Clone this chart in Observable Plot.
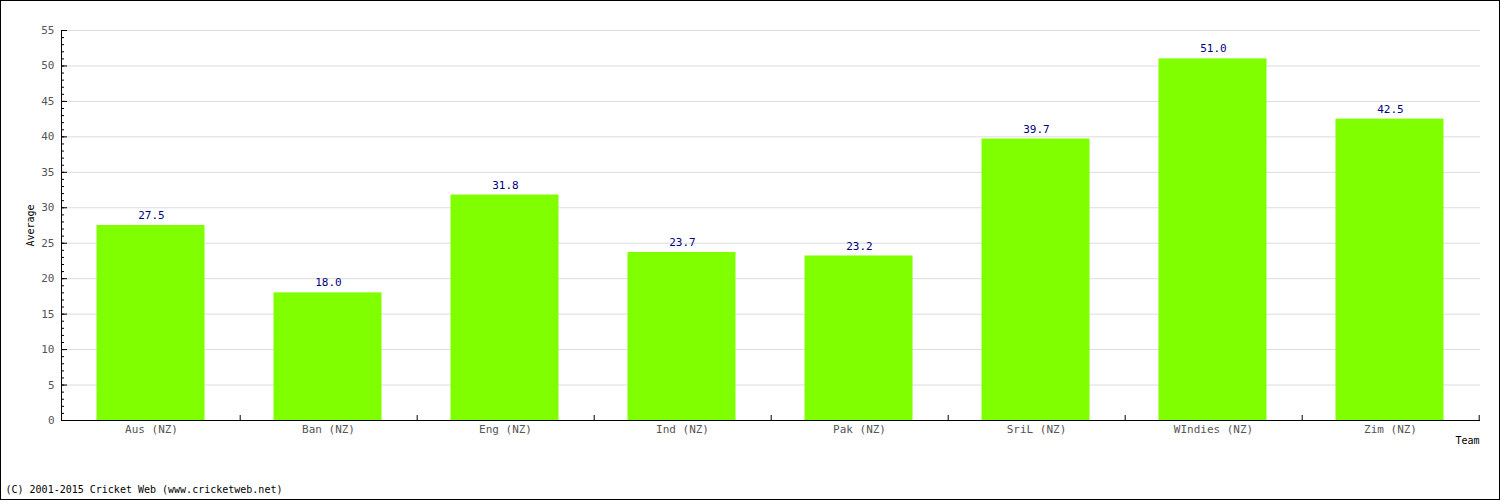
<!DOCTYPE html>
<html><head><meta charset="utf-8">
<script src="https://cdn.jsdelivr.net/npm/d3@7"></script>
<script src="https://cdn.jsdelivr.net/npm/@observablehq/plot@0.6"></script>
<style>
body{margin:0;background:#fff;}
#wrap{position:relative;width:1500px;height:500px;}
#border{position:absolute;left:0;top:0;width:1500px;height:500px;box-sizing:border-box;border:1px solid #000;pointer-events:none;}
</style></head>
<body><div id="wrap"><div id="border"></div></div>
<script>
const teams = ["Aus (NZ)","Ban (NZ)","Eng (NZ)","Ind (NZ)","Pak (NZ)","SriL (NZ)","WIndies (NZ)","Zim (NZ)"];
const averages = [27.5, 18.0, 31.8, 23.7, 23.2, 39.7, 51.0, 42.5];
const yTicks = [0,5,10,15,20,25,30,35,40,45,50,55];
const yGrid = [5,10,15,20,25,30,35,40,45,50,55];
const yMinor = d3.range(0, 56, 1);

const data = teams.map((t,i)=>({team:t, avg:averages[i]}));
const W = 1500, H = 500, mL = 61, mR = 20, mT = 30, mB = 80;
const pw = W - mL - mR, ph = H - mT - mB;
const step = pw / teams.length;
const font = "DejaVu Sans Mono";

const chart = Plot.plot({
  width: W, height: H,
  marginLeft: mL, marginRight: mR, marginTop: mT, marginBottom: mB,
  style: {fontFamily: font, fontSize: "11px", background: "transparent", overflow: "visible"},
  x: {domain: teams, paddingInner: 0.39, paddingOuter: 0.195, axis: null},
  y: {domain: [0, 55], axis: null},
  marks: [
    Plot.ruleY(yGrid, {stroke: "#dcdcdc", strokeWidth: 1}),
    Plot.barY(data, {x: "team", y: "avg", fill: "#7fff00", dx: -0.5}),
    Plot.text(data, {x: "team", y: "avg", text: d => d.avg.toFixed(1), dy: -10, fill: "#000080", fontSize: 11}),
    Plot.ruleY(yMinor, {stroke: "#000", insetRight: pw - 3}),
    Plot.ruleY(yTicks, {stroke: "#000", insetRight: pw - 6}),
    Plot.axisY({ticks: yTicks, tickSize: 0, tickPadding: 7, fill: "#555", label: null, fontSize: 11}),
    Plot.axisX({tickSize: 0, tickPadding: 5, fill: "#555", label: null, fontSize: 11}),
    Plot.ruleX(teams, {x: d => d, dx: step / 2, stroke: "#000", insetTop: ph - 5}),
    Plot.ruleY([0], {stroke: "#000", strokeWidth: 1.2}),
    Plot.frame({anchor: "left", stroke: "#000"}),
    Plot.text(["Average"], {frameAnchor: "left", textAnchor: "middle", rotate: -90, dx: -31, fill: "#000", fontSize: 10}),
    Plot.text(["Team"], {frameAnchor: "bottom-right", textAnchor: "end", dx: -1, dy: 23, fill: "#000", fontSize: 10}),
    Plot.text(["(C) 2001-2015 Cricket Web (www.cricketweb.net)"], {frameAnchor: "bottom-left", textAnchor: "start", dx: -(mL - 5), dy: 72, fill: "#000", fontSize: 10})
  ]
});
document.getElementById("wrap").prepend(chart);
</script>
</body></html>
